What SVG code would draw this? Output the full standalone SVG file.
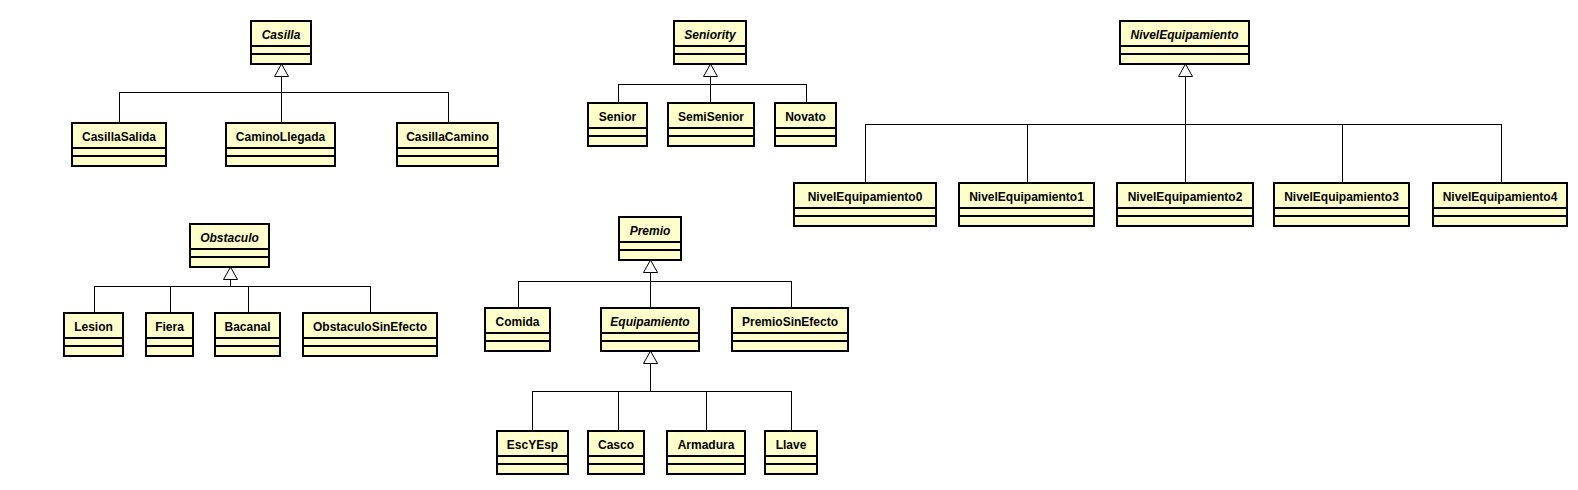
<svg xmlns="http://www.w3.org/2000/svg" width="1578" height="490" viewBox="0 0 1578 490">
<style>
.box{fill:#FFFFCC;stroke:#000;stroke-width:2}
.div{stroke:#000;stroke-width:1.2;shape-rendering:crispEdges}
.t{font-family:"Liberation Sans",Arial,sans-serif;font-size:12px;font-weight:bold;text-anchor:middle;fill:#000}
.i{font-style:italic}
.c{fill:none;stroke:#000;stroke-width:1;shape-rendering:crispEdges}
.tri{fill:#fff;stroke:#000;stroke-width:1}
</style>
<rect width="1578" height="490" fill="#fff"/>
<g id="connectors">
<polyline class="c" points="281.5,76 281.5,123"/>
<polyline class="c" points="119.5,123 119.5,92.5 448.5,92.5 448.5,123"/>
<polygon class="tri" points="281.5,64 274.5,76.5 288.5,76.5"/>
<polyline class="c" points="710.5,76 710.5,103"/>
<polyline class="c" points="618.5,103 618.5,84.5 806.5,84.5 806.5,103"/>
<polygon class="tri" points="710.5,64 703.5,76.5 717.5,76.5"/>
<polyline class="c" points="1185.5,76 1185.5,183"/>
<polyline class="c" points="865.5,183 865.5,124.5 1501.5,124.5 1501.5,183"/>
<polyline class="c" points="1027.5,124.5 1027.5,183"/>
<polyline class="c" points="1342.5,124.5 1342.5,183"/>
<polygon class="tri" points="1185.5,64 1178.5,76.5 1192.5,76.5"/>
<polyline class="c" points="230.5,279 230.5,286.5"/>
<polyline class="c" points="94.5,313 94.5,286.5 370.5,286.5 370.5,313"/>
<polyline class="c" points="170.5,286.5 170.5,313"/>
<polyline class="c" points="248.5,286.5 248.5,313"/>
<polygon class="tri" points="230.5,267 223.5,279.5 237.5,279.5"/>
<polyline class="c" points="650.5,272 650.5,308"/>
<polyline class="c" points="518.5,308 518.5,281.5 791.5,281.5 791.5,308"/>
<polygon class="tri" points="650.5,260 643.5,272.5 657.5,272.5"/>
<polyline class="c" points="650.5,363 650.5,391.5"/>
<polyline class="c" points="532.5,431 532.5,391.5 791.5,391.5 791.5,431"/>
<polyline class="c" points="618.5,391.5 618.5,431"/>
<polyline class="c" points="706.5,391.5 706.5,431"/>
<polygon class="tri" points="650.5,351 643.5,363.5 657.5,363.5"/>
</g>
<g id="Casilla"><rect class="box" x="251" y="21" width="60" height="43"/><line class="div" x1="251" y1="46" x2="311" y2="46"/><line class="div" x1="251" y1="54" x2="311" y2="54"/><text class="t i" x="281" y="39">Casilla</text></g>
<g id="CasillaSalida"><rect class="box" x="72" y="123" width="94" height="43"/><line class="div" x1="72" y1="148" x2="166" y2="148"/><line class="div" x1="72" y1="156" x2="166" y2="156"/><text class="t" x="119" y="141">CasillaSalida</text></g>
<g id="CaminoLlegada"><rect class="box" x="226" y="123" width="109" height="43"/><line class="div" x1="226" y1="148" x2="335" y2="148"/><line class="div" x1="226" y1="156" x2="335" y2="156"/><text class="t" x="280.5" y="141">CaminoLlegada</text></g>
<g id="CasillaCamino"><rect class="box" x="397" y="123" width="101" height="43"/><line class="div" x1="397" y1="148" x2="498" y2="148"/><line class="div" x1="397" y1="156" x2="498" y2="156"/><text class="t" x="447.5" y="141">CasillaCamino</text></g>
<g id="Seniority"><rect class="box" x="674" y="21" width="72" height="43"/><line class="div" x1="674" y1="46" x2="746" y2="46"/><line class="div" x1="674" y1="54" x2="746" y2="54"/><text class="t i" x="710" y="39">Seniority</text></g>
<g id="Senior"><rect class="box" x="588" y="103" width="59" height="43"/><line class="div" x1="588" y1="128" x2="647" y2="128"/><line class="div" x1="588" y1="136" x2="647" y2="136"/><text class="t" x="617.5" y="121">Senior</text></g>
<g id="SemiSenior"><rect class="box" x="668" y="103" width="86" height="43"/><line class="div" x1="668" y1="128" x2="754" y2="128"/><line class="div" x1="668" y1="136" x2="754" y2="136"/><text class="t" x="711" y="121">SemiSenior</text></g>
<g id="Novato"><rect class="box" x="775" y="103" width="61" height="43"/><line class="div" x1="775" y1="128" x2="836" y2="128"/><line class="div" x1="775" y1="136" x2="836" y2="136"/><text class="t" x="805.5" y="121">Novato</text></g>
<g id="NivelEquipamiento"><rect class="box" x="1120" y="21" width="129" height="43"/><line class="div" x1="1120" y1="46" x2="1249" y2="46"/><line class="div" x1="1120" y1="54" x2="1249" y2="54"/><text class="t i" x="1184.5" y="39">NivelEquipamiento</text></g>
<g id="NivelEquipamiento0"><rect class="box" x="794" y="183" width="142" height="43"/><line class="div" x1="794" y1="208" x2="936" y2="208"/><line class="div" x1="794" y1="216" x2="936" y2="216"/><text class="t" x="865" y="201">NivelEquipamiento0</text></g>
<g id="NivelEquipamiento1"><rect class="box" x="959" y="183" width="135" height="43"/><line class="div" x1="959" y1="208" x2="1094" y2="208"/><line class="div" x1="959" y1="216" x2="1094" y2="216"/><text class="t" x="1026.5" y="201">NivelEquipamiento1</text></g>
<g id="NivelEquipamiento2"><rect class="box" x="1117" y="183" width="136" height="43"/><line class="div" x1="1117" y1="208" x2="1253" y2="208"/><line class="div" x1="1117" y1="216" x2="1253" y2="216"/><text class="t" x="1185" y="201">NivelEquipamiento2</text></g>
<g id="NivelEquipamiento3"><rect class="box" x="1274" y="183" width="135" height="43"/><line class="div" x1="1274" y1="208" x2="1409" y2="208"/><line class="div" x1="1274" y1="216" x2="1409" y2="216"/><text class="t" x="1341.5" y="201">NivelEquipamiento3</text></g>
<g id="NivelEquipamiento4"><rect class="box" x="1433" y="183" width="134" height="43"/><line class="div" x1="1433" y1="208" x2="1567" y2="208"/><line class="div" x1="1433" y1="216" x2="1567" y2="216"/><text class="t" x="1500" y="201">NivelEquipamiento4</text></g>
<g id="Obstaculo"><rect class="box" x="190" y="224" width="79" height="43"/><line class="div" x1="190" y1="249" x2="269" y2="249"/><line class="div" x1="190" y1="257" x2="269" y2="257"/><text class="t i" x="229.5" y="242">Obstaculo</text></g>
<g id="Lesion"><rect class="box" x="64" y="313" width="59" height="43"/><line class="div" x1="64" y1="338" x2="123" y2="338"/><line class="div" x1="64" y1="346" x2="123" y2="346"/><text class="t" x="93.5" y="331">Lesion</text></g>
<g id="Fiera"><rect class="box" x="146" y="313" width="47" height="43"/><line class="div" x1="146" y1="338" x2="193" y2="338"/><line class="div" x1="146" y1="346" x2="193" y2="346"/><text class="t" x="169.5" y="331">Fiera</text></g>
<g id="Bacanal"><rect class="box" x="215" y="313" width="65" height="43"/><line class="div" x1="215" y1="338" x2="280" y2="338"/><line class="div" x1="215" y1="346" x2="280" y2="346"/><text class="t" x="247.5" y="331">Bacanal</text></g>
<g id="ObstaculoSinEfecto"><rect class="box" x="303" y="313" width="134" height="43"/><line class="div" x1="303" y1="338" x2="437" y2="338"/><line class="div" x1="303" y1="346" x2="437" y2="346"/><text class="t" x="370" y="331">ObstaculoSinEfecto</text></g>
<g id="Premio"><rect class="box" x="619" y="217" width="62" height="43"/><line class="div" x1="619" y1="242" x2="681" y2="242"/><line class="div" x1="619" y1="250" x2="681" y2="250"/><text class="t i" x="650" y="235">Premio</text></g>
<g id="Comida"><rect class="box" x="485" y="308" width="65" height="43"/><line class="div" x1="485" y1="333" x2="550" y2="333"/><line class="div" x1="485" y1="341" x2="550" y2="341"/><text class="t" x="517.5" y="326">Comida</text></g>
<g id="Equipamiento"><rect class="box" x="601" y="308" width="98" height="43"/><line class="div" x1="601" y1="333" x2="699" y2="333"/><line class="div" x1="601" y1="341" x2="699" y2="341"/><text class="t i" x="650" y="326">Equipamiento</text></g>
<g id="PremioSinEfecto"><rect class="box" x="732" y="308" width="116" height="43"/><line class="div" x1="732" y1="333" x2="848" y2="333"/><line class="div" x1="732" y1="341" x2="848" y2="341"/><text class="t" x="790" y="326">PremioSinEfecto</text></g>
<g id="EscYEsp"><rect class="box" x="497" y="431" width="71" height="43"/><line class="div" x1="497" y1="456" x2="568" y2="456"/><line class="div" x1="497" y1="464" x2="568" y2="464"/><text class="t" x="532.5" y="449">EscYEsp</text></g>
<g id="Casco"><rect class="box" x="588" y="431" width="56" height="43"/><line class="div" x1="588" y1="456" x2="644" y2="456"/><line class="div" x1="588" y1="464" x2="644" y2="464"/><text class="t" x="616" y="449">Casco</text></g>
<g id="Armadura"><rect class="box" x="667" y="431" width="78" height="43"/><line class="div" x1="667" y1="456" x2="745" y2="456"/><line class="div" x1="667" y1="464" x2="745" y2="464"/><text class="t" x="706" y="449">Armadura</text></g>
<g id="Llave"><rect class="box" x="765" y="431" width="52" height="43"/><line class="div" x1="765" y1="456" x2="817" y2="456"/><line class="div" x1="765" y1="464" x2="817" y2="464"/><text class="t" x="791" y="449">Llave</text></g>
</svg>
